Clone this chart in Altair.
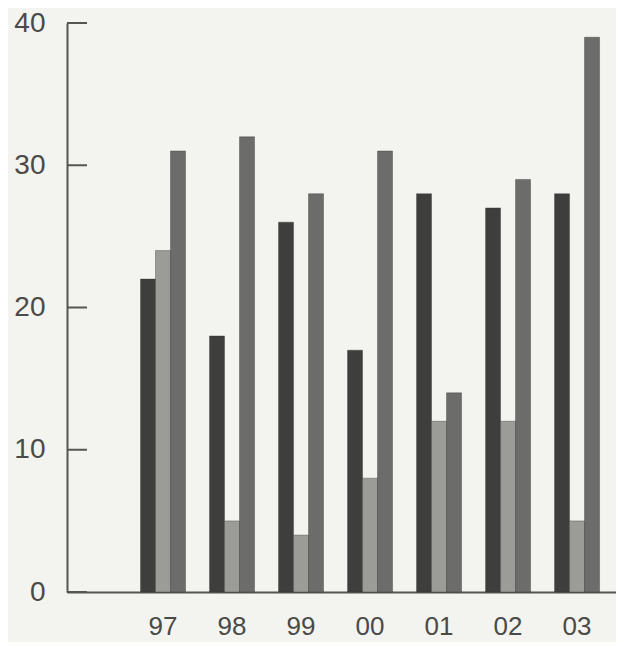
import altair as alt
import pandas as pd

years = ["97", "98", "99", "00", "01", "02", "03"]
series_names = ["A", "B", "C"]
series_a = [22, 18, 26, 17, 28, 27, 28]
series_b = [24, 5, 4, 8, 12, 12, 5]
series_c = [31, 32, 28, 31, 14, 29, 39]
y_ticks = [0, 10, 20, 30, 40]
colors = ["#3e3e3c", "#9b9b97", "#6c6c6a"]

rows = []
for i, yr in enumerate(years):
    for s, vals in zip(series_names, [series_a, series_b, series_c]):
        rows.append({"year": yr, "series": s, "value": vals[i]})
df = pd.DataFrame(rows)
ticks_df = pd.DataFrame({"v": y_ticks})

yscale = alt.Scale(domain=[0, 40], nice=False)

bars = alt.Chart(df).mark_bar(stroke="#2e2e2c", strokeWidth=0.6, strokeOpacity=0.6).encode(
    x=alt.X("year:N", sort=years,
            scale=alt.Scale(paddingInner=0.348, paddingOuter=0.652, align=0.817),
            axis=alt.Axis(title=None, labelAngle=0, ticks=False, domain=True,
                          domainColor="#555553", domainWidth=2,
                          labelFontSize=26, labelColor="#4a4a48",
                          labelFont="Liberation Sans", labelPadding=21)),
    xOffset=alt.XOffset("series:N", sort=series_names),
    y=alt.Y("value:Q", scale=yscale,
            axis=alt.Axis(title=None, values=y_ticks, ticks=False, grid=False,
                          domainColor="#555553", domainWidth=2,
                          labelFontSize=28, labelColor="#4a4a48",
                          labelFont="Liberation Sans", labelPadding=22)),
    color=alt.Color("series:N", sort=series_names,
                    scale=alt.Scale(domain=series_names, range=colors), legend=None),
)

tick_marks = alt.Chart(ticks_df).mark_rule(color="#555553", strokeWidth=2).encode(
    y=alt.Y("v:Q", scale=yscale),
    x=alt.value(0),
    x2=alt.value(20),
)

chart = alt.layer(bars, tick_marks).properties(
    width=549, height=569,
    background="#f3f3ef",
    padding={"left": 59, "top": 15, "right": 0, "bottom": 50},
    autosize=alt.AutoSizeParams(type="none"),
).configure_view(stroke=None)

chart.save("out.html", embed_options={"renderer": "svg", "actions": False})
